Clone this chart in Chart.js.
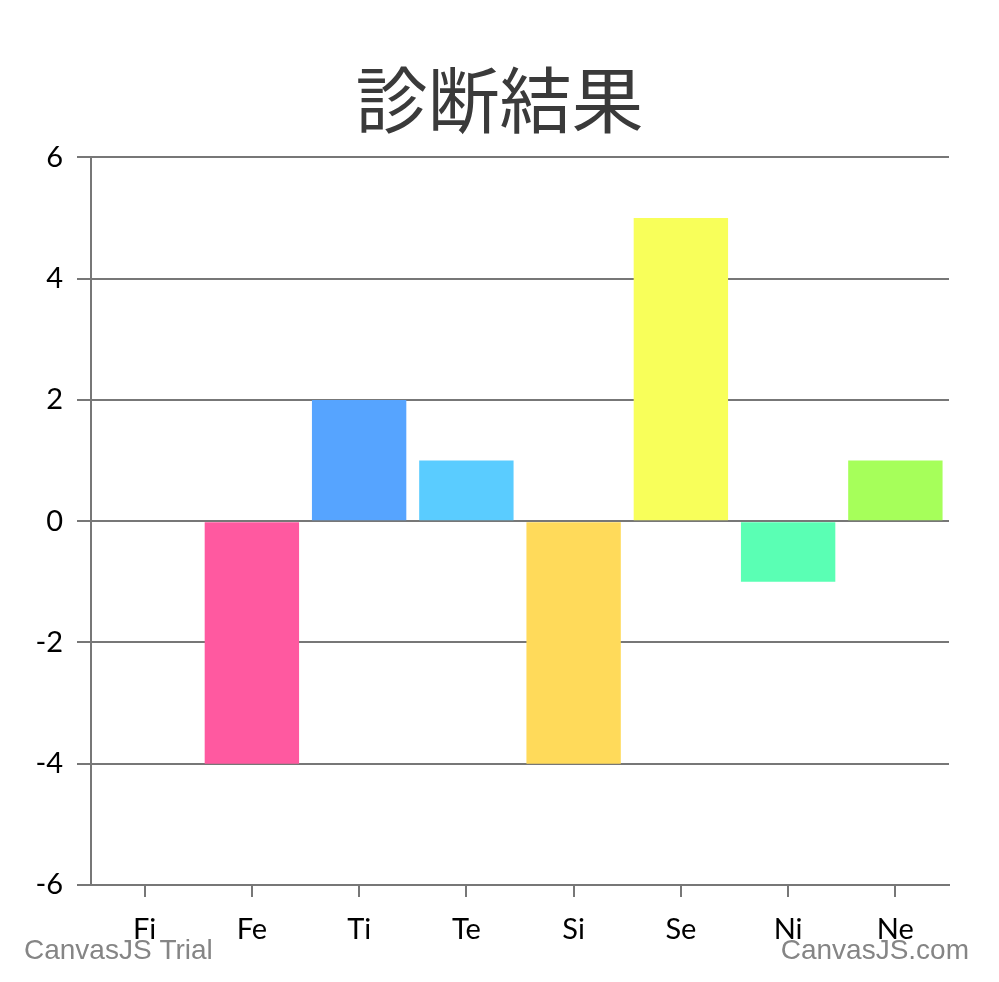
<!DOCTYPE html>
<html>
<head>
<meta charset="utf-8">
<script src="https://cdn.jsdelivr.net/npm/chart.js@4"></script>
<style>
  html, body { margin: 0; padding: 0; background: #fff; }
  #wrap { width: 999px; height: 982px; }
</style>
</head>
<body>
<div id="wrap"><canvas id="chart"></canvas></div>
<script>
// 診断結果 data
const categories = ['Fi', 'Fe', 'Ti', 'Te', 'Si', 'Se', 'Ni', 'Ne'];
const values = [0, -4, 2, 1, -4, 5, -1, 1];
const barColors = ['#C46BFF', '#FF59A0', '#56A4FF', '#5ACCFF', '#FFDA5A', '#F8FF5A', '#5AFFB4', '#A6FF5A'];

const tickFont = { family: 'Lato, "DejaVu Sans", sans-serif', size: 29 };
const gridColor = '#777777';

// watermark text, bottom corners
const watermarkPlugin = {
  id: 'watermark',
  afterDraw: function(chart) {
    const c = chart.ctx;
    c.save();
    c.font = '28px "Liberation Sans", Arial, sans-serif';
    c.fillStyle = '#858585';
    c.textBaseline = 'alphabetic';
    c.textAlign = 'left';
    c.fillText('CanvasJS Trial', 24, 959);
    c.textAlign = 'right';
    c.fillText('CanvasJS.com', 969, 959);
    c.restore();
  }
};

new Chart(document.getElementById('chart'), {
  type: 'bar',
  data: {
    labels: categories,
    datasets: [{
      data: values,
      backgroundColor: barColors,
      borderWidth: 0,
      barPercentage: 1,
      categoryPercentage: 0.88
    }]
  },
  options: {
    responsive: true,
    maintainAspectRatio: false,
    animation: false,
    layout: {
      padding: 0
    },
    plugins: {
      legend: { display: false },
      tooltip: { enabled: false },
      title: {
        display: true,
        text: '診断結果',
        color: '#3a3a3a',
        font: { family: '"Noto Sans CJK JP", sans-serif', size: 72, weight: 'normal' },
        padding: { top: 56, bottom: 15 }
      }
    },
    scales: {
      x: {
        grid: {
          offset: false,
          drawOnChartArea: false,
          drawTicks: true,
          tickLength: 12,
          color: gridColor,
          lineWidth: 2
        },
        border: { color: gridColor, width: 2 },
        ticks: {
          color: '#000',
          font: tickFont,
          padding: 15,
          maxRotation: 0,
          autoSkip: false
        },
        afterFit: function(scale) { scale.height = 97; }
      },
      y: {
        min: -6,
        max: 6,
        grid: {
          color: gridColor,
          lineWidth: 2,
          tickLength: 14
        },
        border: { color: gridColor, width: 2 },
        ticks: {
          stepSize: 2,
          color: '#000',
          font: tickFont,
          padding: 14
        },
        afterFit: function(scale) { scale.width = 91; }
      },
      // empty right gutter so the plot ends at the same place
      yRight: {
        position: 'right',
        min: -6,
        max: 6,
        grid: { display: false, drawOnChartArea: false },
        border: { display: false },
        ticks: { display: false },
        afterFit: function(scale) { scale.width = 50; }
      }
    }
  },
  plugins: [watermarkPlugin]
});
</script>
</body>
</html>
